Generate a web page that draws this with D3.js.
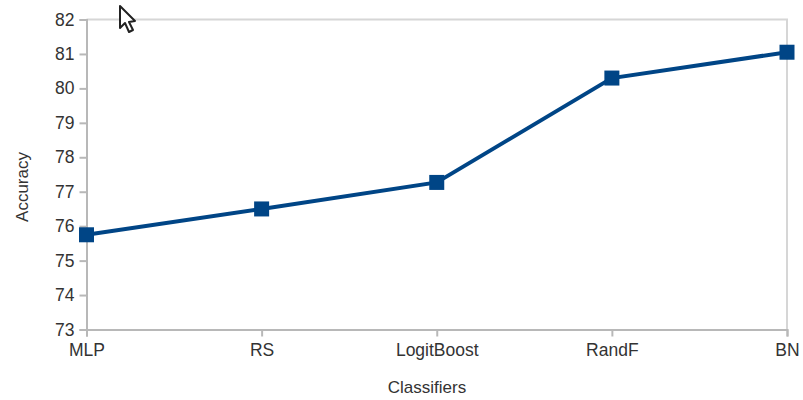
<!DOCTYPE html>
<html>
<head>
<meta charset="utf-8">
<script src="https://cdn.jsdelivr.net/npm/d3@7"></script>
<style>
    html, body { margin: 0; padding: 0; background: #fff; }
    svg { display: block; }
    text { font-family: "Liberation Sans", sans-serif; fill: #333; }
</style>
</head>
<body>
<svg id="chart" width="803" height="400"></svg>
<script>
var classifiers = ["MLP", "RS", "LogitBoost", "RandF", "BN"];
var accuracy = [75.75, 76.5, 77.27, 80.3, 81.05];
var yTicks = [73, 74, 75, 76, 77, 78, 79, 80, 81, 82];

var left = 86.5, right = 787, top_ = 19.5, bottom = 329.5;
var axisColor = "#b8b8b8", frameColor = "#d6d6d6", lineColor = "#004586";

var svg = d3.select("#chart");

var x = d3.scalePoint().domain(classifiers).range([left, right]);
var y = d3.scaleLinear().domain([73, 82]).range([bottom, top_]);

// top edge and right edge of the plot area
svg.append("path")
    .attr("d", "M" + left + "," + top_ + "H" + right + "V" + bottom)
    .attr("fill", "none")
    .attr("stroke", frameColor)
    .attr("stroke-width", 2);

var yAxis = svg.append("g")
    .attr("transform", "translate(" + left + ",0)")
    .call(d3.axisLeft(y).tickValues(yTicks).tickSize(7).tickPadding(5));

var xAxis = svg.append("g")
    .attr("transform", "translate(0," + bottom + ")")
    .call(d3.axisBottom(x).tickSize(7).tickPadding(7));

[yAxis, xAxis].forEach(function (axis) {
    axis.selectAll(".domain").attr("stroke", axisColor).attr("stroke-width", 2);
    axis.selectAll(".tick line").attr("stroke", axisColor).attr("stroke-width", 2);
    axis.selectAll("text").style("font-size", "17.5px").attr("fill", "#333");
});

var line = d3.line()
    .x(function (d, i) { return x(classifiers[i]); })
    .y(function (d) { return y(d); });

svg.append("path")
    .datum(accuracy)
    .attr("d", line)
    .attr("fill", "none")
    .attr("stroke", lineColor)
    .attr("stroke-width", 4);

var size = 15;
svg.selectAll("rect.point")
    .data(accuracy)
    .enter()
    .append("rect")
    .attr("class", "point")
    .attr("x", function (d, i) { return x(classifiers[i]) - size / 2; })
    .attr("y", function (d) { return y(d) - size / 2; })
    .attr("width", size)
    .attr("height", size)
    .attr("fill", lineColor);

svg.append("text")
    .attr("x", 427)
    .attr("y", 393)
    .attr("text-anchor", "middle")
    .style("font-size", "17px")
    .text("Classifiers");

svg.append("text")
    .attr("transform", "translate(28,187) rotate(-90)")
    .attr("text-anchor", "middle")
    .style("font-size", "17px")
    .text("Accuracy");

// mouse pointer sitting over the top edge
svg.append("path")
    .attr("d", "M120,6V28L125,23L129,32L133,30L129,22L135,21Z")
    .attr("fill", "#fff")
    .attr("stroke", "#222")
    .attr("stroke-width", 2)
    .attr("stroke-linejoin", "round");
</script>
</body>
</html>
